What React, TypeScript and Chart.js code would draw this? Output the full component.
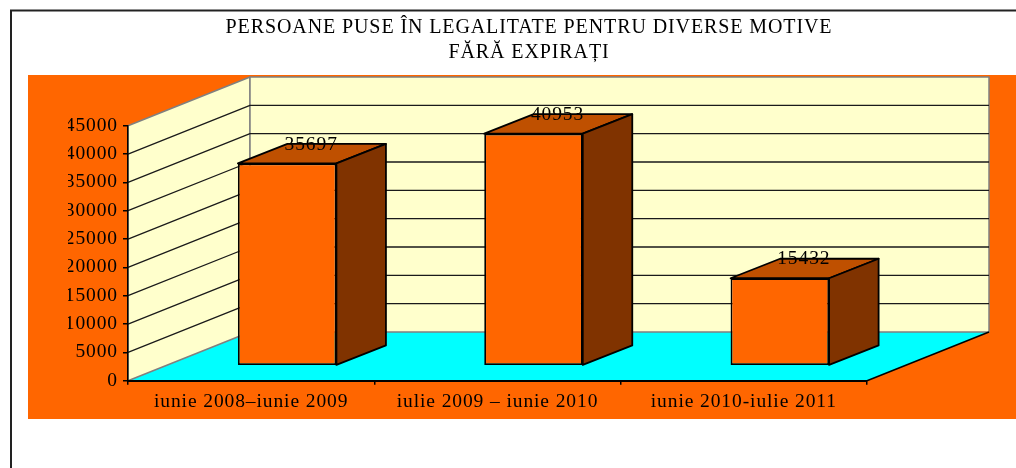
import React, { useEffect, useRef } from "react";
import { Chart, registerables } from "chart.js";

Chart.register(...registerables);

const categories = ["iunie 2008–iunie 2009", "iulie 2009 – iunie 2010", "iunie 2010-iulie 2011"];
const values = [35697, 40953, 15432];
const titleLines = ["PERSOANE PUSE ÎN LEGALITATE PENTRU DIVERSE MOTIVE", "FĂRĂ EXPIRAȚI"];

const FONT = "'Liberation Serif', serif";
const WALL_DX = 122;
const WALL_DY = 48.7;
const BAR_SHIFT_X = 36;
const BAR_SHIFT_Y = 15;
const BAR_DX = 49.5;
const BAR_DY = 19.5;

function poly(ctx: CanvasRenderingContext2D, pts: number[][], fill: string | null, stroke: string | null, lw = 1) {
  ctx.beginPath();
  pts.forEach((p, i) => (i ? ctx.lineTo(p[0], p[1]) : ctx.moveTo(p[0], p[1])));
  ctx.closePath();
  if (fill) {
    ctx.fillStyle = fill;
    ctx.fill();
  }
  if (stroke) {
    ctx.strokeStyle = stroke;
    ctx.lineWidth = lw;
    ctx.lineJoin = "round";
    ctx.stroke();
  }
}

const scene3d = {
  id: "scene3d",
  afterLayout(chart: any) {
    const t = chart.titleBlock;
    t.left = 0;
    t.right = 1058;
  },
  beforeDraw(chart: any) {
    const ctx = chart.ctx as CanvasRenderingContext2D;
    (ctx as any).letterSpacing = "0.9px";
    const { left, right, top, bottom } = chart.chartArea;
    ctx.save();
    ctx.fillStyle = "#ffffff";
    ctx.fillRect(0, 0, chart.width, chart.height);
    ctx.strokeStyle = "#222222";
    ctx.lineWidth = 2;
    ctx.strokeRect(11, 10.5, chart.width + 20, chart.height + 20);
    ctx.fillStyle = "#ff6600";
    ctx.fillRect(28, 75, chart.width - 28, 344);

    const backL = left + WALL_DX;
    const backR = right + WALL_DX;
    const backT = top - WALL_DY;
    const backB = bottom - WALL_DY;
    poly(ctx, [[left, bottom], [right, bottom], [backR, backB], [backL, backB]], "#00ffff", null);
    poly(ctx, [[left, bottom], [left, top], [backL, backT], [backL, backB]], "#ffffcc", "#808080", 1.5);
    poly(ctx, [[backL, backT], [backR, backT], [backR, backB], [backL, backB]], "#ffffcc", "#808080", 1.5);
    ctx.strokeStyle = "#1a1a1a";
    ctx.lineWidth = 1.3;
    chart.scales.y.ticks.forEach((tick: any) => {
      if (tick.value === 0 || tick.value === 45000) return;
      const y = chart.scales.y.getPixelForValue(tick.value);
      ctx.beginPath();
      ctx.moveTo(left, y);
      ctx.lineTo(backL, y - WALL_DY);
      ctx.lineTo(backR, y - WALL_DY);
      ctx.stroke();
    });
    ctx.strokeStyle = "#000000";
    ctx.lineWidth = 1.5;
    ctx.beginPath();
    ctx.moveTo(right, bottom);
    ctx.lineTo(backR, backB);
    ctx.stroke();
    ctx.restore();
  },
  beforeDatasetDraw(chart: any, args: any) {
    const ctx = chart.ctx as CanvasRenderingContext2D;
    ctx.save();
    ctx.translate(BAR_SHIFT_X, -BAR_SHIFT_Y);
    args.meta.data.forEach((bar: any) => {
      const { x, y, base, width } = bar.getProps(["x", "y", "base", "width"], true);
      const l = x - width / 2;
      const r = x + width / 2;
      poly(ctx, [[l, y], [r, y], [r + BAR_DX, y - BAR_DY], [l + BAR_DX, y - BAR_DY]], "#bf5000", "#000000", 1.8);
      poly(ctx, [[r, y], [r, base], [r + BAR_DX, base - BAR_DY], [r + BAR_DX, y - BAR_DY]], "#803300", "#000000", 1.8);
    });
  },
  afterDatasetDraw(chart: any) {
    chart.ctx.restore();
  },
  afterDatasetsDraw(chart: any) {
    const ctx = chart.ctx as CanvasRenderingContext2D;
    const meta = chart.getDatasetMeta(0);
    ctx.save();
    ctx.font = `19.5px ${FONT}`;
    ctx.fillStyle = "#000000";
    ctx.textAlign = "center";
    ctx.textBaseline = "middle";
    meta.data.forEach((bar: any, i: number) => {
      const { x, y } = bar.getProps(["x", "y"], true);
      ctx.fillText(String(values[i]), x + BAR_SHIFT_X + 24, y - BAR_SHIFT_Y - 19);
    });
    ctx.restore();
  },
};

export default function App() {
  const ref = useRef<HTMLCanvasElement>(null);
  useEffect(() => {
    const chart = new Chart(ref.current as HTMLCanvasElement, {
      type: "bar",
      data: {
        labels: categories,
        datasets: [
          {
            data: values,
            backgroundColor: "#ff6600",
            borderColor: "#000000",
            borderWidth: 1.8,
            borderSkipped: false,
            categoryPercentage: 1,
            barPercentage: 0.4,
            clip: false,
          } as any,
        ],
      },
      options: {
        responsive: false,
        animation: false,
        layout: { padding: { left: 68, right: 149, top: 0, bottom: 0 } },
        plugins: {
          legend: { display: false },
          tooltip: { enabled: false },
          title: {
            display: true,
            text: titleLines,
            color: "#000000",
            font: { family: FONT, size: 20, weight: "normal", lineHeight: 1.22 },
            padding: { top: 16, bottom: 60.9 },
          },
        },
        scales: {
          x: {
            afterFit: (s: any) => {
              s.height = 87.3;
            },
            grid: { display: true, drawOnChartArea: false, drawTicks: true, tickLength: 4, color: "#000000", lineWidth: 1.5 },
            border: { display: true, color: "#000000", width: 2 },
            ticks: { color: "#000000", font: { family: FONT, size: 19.5 }, maxRotation: 0, autoSkip: false, padding: 5 },
          },
          y: {
            min: 0,
            max: 45000,
            afterFit: (s: any) => {
              s.width = 60;
            },
            grid: { display: true, drawOnChartArea: false, drawTicks: true, tickLength: 5, color: "#000000", lineWidth: 1.5 },
            border: { display: true, color: "#000000", width: 1.5 },
            ticks: {
              stepSize: 5000,
              color: "#000000",
              font: { family: FONT, size: 19.5 },
              padding: 5,
              callback: (v: any) => String(v),
            },
          },
        },
      },
      plugins: [scene3d],
    } as any);
    return () => chart.destroy();
  }, []);
  return (
    <div style={{ position: "absolute", left: 0, top: 0, width: 1016, height: 468 }}>
      <canvas ref={ref} width={1016} height={468} style={{ display: "block" }} />
    </div>
  );
}
